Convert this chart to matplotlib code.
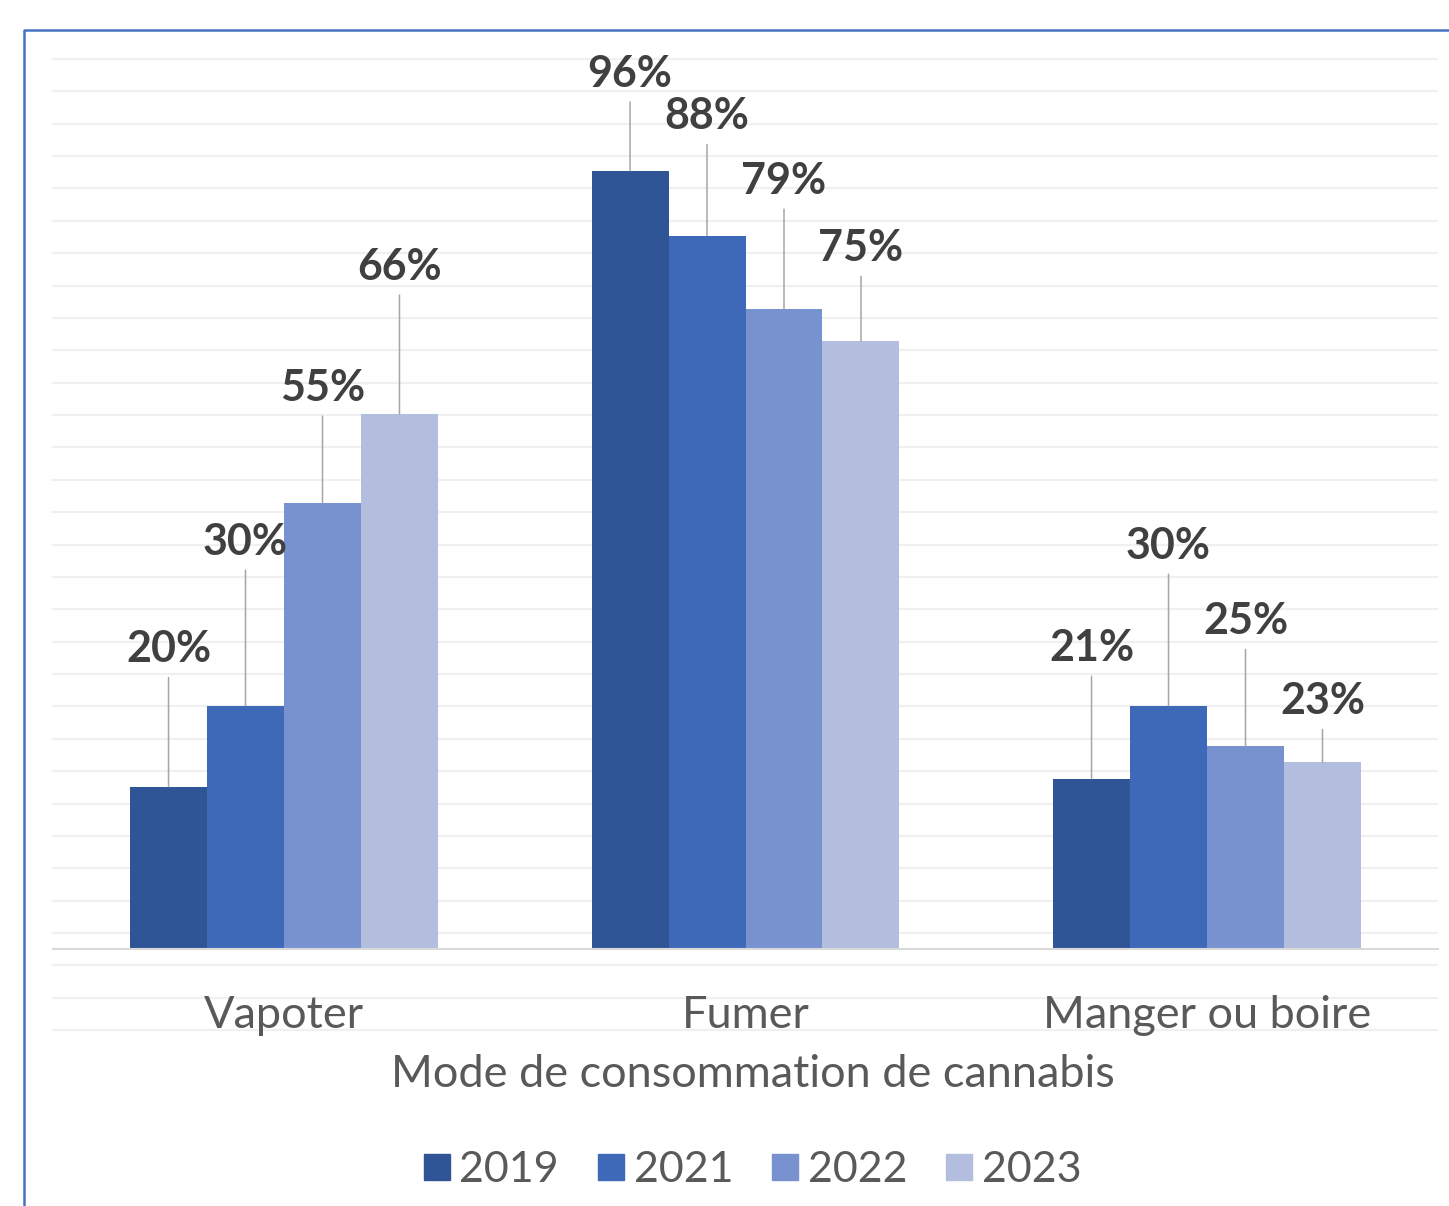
import numpy as np
import matplotlib.pyplot as plt
from matplotlib.lines import Line2D

modes = ['Vapoter', 'Fumer', 'Manger ou boire']
years = ['2019', '2021', '2022', '2023']
v2019 = [20, 96, 21]
v2021 = [30, 88, 30]
v2022 = [55, 79, 25]
v2023 = [66, 75, 23]
series = [v2019, v2021, v2022, v2023]

colors = ['#2F5597', '#3E69B8', '#7891CF', '#B3BEDF']
# how far each value label sits above its bar (points)
label_offsets = [[99, 70, 94], [118, 86, 115], [83, 92, 90], [106, 67, 44]]

plt.rcParams['font.family'] = ['Lato', 'DejaVu Sans']

W, H = 1449, 1206
fig = plt.figure(figsize=(W / 100, H / 100), dpi=100)

# background: lined paper + blue frame
bg = fig.add_axes([0, 0, 1, 1], zorder=0)
bg.set_xlim(0, W)
bg.set_ylim(H, 0)
bg.axis('off')
for y in 59 + 32.37 * np.arange(31):
    bg.plot([53, 1437], [y, y], color='#f0f0f0', lw=1.6)
bg.plot([23.5, 23.5, W], [H, 29.5, 29.5], color='#4472C4', lw=1.8)

ax = fig.add_axes([0.03675, 0.21335, 0.9555, 0.7377], zorder=1)
ax.patch.set_alpha(0)

x = np.arange(len(modes))
w = 0.1668
for i, (vals, c) in enumerate(zip(series, colors)):
    pos = x + (i - 1.5) * w
    ax.bar(pos, vals, w, color=c, label=years[i], zorder=2)
    for xp, v, off in zip(pos, vals, label_offsets[i]):
        ax.annotate(f'{v}%', (xp, v), xytext=(0, off), textcoords='offset points',
                    ha='center', va='center', fontsize=31, fontweight='bold',
                    color='#404040', annotation_clip=False,
                    arrowprops=dict(arrowstyle='-', color='#a6a6a6', lw=1.1,
                                    shrinkA=4, shrinkB=0))

ax.set_xlim(-0.5, 2.5)
ax.set_ylim(0, 109.8)
ax.set_yticks([])
ax.set_xticks(x)
ax.set_xticklabels(modes, fontsize=32.5, color='#595959')
ax.tick_params(axis='x', length=0, pad=33)
for s in ['top', 'left', 'right']:
    ax.spines[s].set_visible(False)
ax.spines['bottom'].set_color('#d9d9d9')
ax.spines['bottom'].set_linewidth(1.5)

ax.set_xlabel('Mode de consommation de cannabis', fontsize=32.5, color='#595959')
ax.xaxis.set_label_coords(0.505, -0.1415)
ax.xaxis.label.set_va('center')

handles = [Line2D([], [], marker='s', ls='none', color=c, markersize=19.4) for c in colors]
fig.legend(handles, years, loc='center', bbox_to_anchor=(0.519, 0.030), ncol=4,
           frameon=False, fontsize=31, labelcolor='#595959', handlelength=0.65,
           handletextpad=0.2, columnspacing=0.88)

fig.savefig('out.png', dpi=100)
